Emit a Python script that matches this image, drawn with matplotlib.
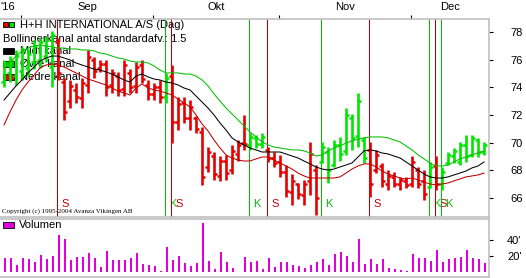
import numpy as np
import pandas as pd
import matplotlib
matplotlib.use('Agg')
import matplotlib.pyplot as plt
import matplotlib.transforms as mtransforms
from matplotlib.patches import Rectangle

plt.rcParams['font.family'] = ['Liberation Sans', 'DejaVu Sans']

# trading days shown in the chart
dates = pd.bdate_range('2016-08-29', periods=81)

high = [76.0, 76.3, 76.7, 76.9, 76.8, 77.4, 77.6, 77.7, 78.1, 77.6,
        74.7, 74.5, 74.3, 74.7, 76.7, 76.2, 76.0, 76.0, 75.3, 75.1,
        76.0, 75.3, 75.8, 76.0, 74.5, 74.3, 74.5, 75.0, 75.6, 73.3,
        73.3, 73.1, 71.9, 71.1, 69.7, 69.3, 69.0, 69.1, 69.8, 70.2,
        72.0, 70.7, 70.55, 70.7, 69.7, 69.3, 69.1, 68.4, 67.7, 67.1,
        67.3, 70.05, 68.4, 70.05, 69.7, 70.2, 70.4, 72.5, 72.1, 73.6,
        70.4, 70.05, 69.5, 68.5, 68.0, 67.9, 67.5, 67.5, 69.0, 68.2,
        68.0, 68.6, 69.0, 68.2, 69.3, 69.6, 70.05, 70.55, 70.55, 70.3,
        70.05]
low = [74.0, 74.4, 74.2, 74.5, 74.8, 75.3, 75.4, 75.8, 74.0, 74.5,
       71.6, 72.5, 72.9, 72.5, 73.6, 74.7, 75.1, 73.4, 73.6, 73.4,
       73.4, 73.6, 73.6, 74.3, 73.1, 73.1, 72.9, 72.9, 70.0, 70.9,
       71.4, 70.9, 70.7, 66.9, 67.9, 67.3, 67.2, 67.3, 67.7, 68.7,
       69.5, 69.5, 69.6, 69.6, 68.6, 68.2, 67.5, 66.1, 65.5, 65.9,
       65.5, 66.2, 64.8, 68.5, 67.1, 68.2, 68.7, 69.1, 69.5, 69.7,
       68.5, 66.1, 67.8, 66.8, 66.6, 66.8, 66.6, 66.7, 66.8, 66.7,
       65.85, 66.7, 66.6, 66.6, 68.4, 68.5, 68.4, 68.6, 68.95, 68.95,
       69.1]
opn = [74.4, 75.0, 74.8, 75.2, 75.4, 75.8, 76.0, 76.3, 75.5, 77.3,
       74.4, 73.0, 73.8, 73.2, 74.2, 76.0, 75.4, 75.7, 74.2, 74.8,
       73.9, 75.0, 74.1, 75.6, 74.2, 73.5, 74.0, 73.3, 74.8, 71.5,
       72.9, 71.8, 71.8, 70.8, 68.2, 69.0, 67.6, 68.7, 68.0, 69.2,
       70.0, 69.8, 70.3, 69.9, 69.5, 68.9, 68.6, 67.9, 66.4, 67.0,
       66.2, 67.2, 68.0, 68.6, 69.3, 68.4, 69.8, 69.4, 71.8, 70.5,
       70.2, 69.5, 68.0, 68.3, 67.0, 67.5, 67.0, 67.2, 67.0, 68.0,
       67.2, 66.8, 68.3, 67.0, 68.5, 69.0, 68.6, 69.8, 69.1, 70.2,
       69.3]
close = [75.6, 76.0, 76.3, 76.6, 76.4, 77.0, 77.3, 77.4, 77.8, 75.0,
         72.2, 74.1, 73.3, 74.3, 76.2, 75.2, 75.7, 74.0, 75.0, 73.8,
         75.6, 74.0, 75.5, 74.6, 73.5, 74.0, 73.3, 74.7, 71.5, 72.8,
         71.8, 72.6, 71.0, 67.5, 69.3, 67.7, 68.7, 67.8, 69.4, 69.8,
         69.9, 70.4, 69.9, 70.4, 68.9, 68.5, 67.9, 66.5, 67.2, 66.3,
         67.0, 69.2, 66.0, 69.7, 68.0, 69.8, 69.2, 72.0, 70.3, 73.0,
         68.9, 67.0, 69.1, 67.2, 67.6, 67.0, 67.3, 66.9, 68.6, 67.0,
         66.3, 68.2, 67.0, 67.9, 69.1, 69.4, 69.8, 69.0, 70.3, 69.3,
         69.8]
volume = [17500, 17500, 9000, 17500, 16000, 12500, 21000, 16000, 20000, 46000,
          41000, 15000, 19000, 19000, 24000, 17500, 6000, 26000, 15000, 15000,
          15000, 17500, 24000, 10000, 9000, 7500, 1500, 31000, 15000, 20000,
          11000, 7500, 11000, 61000, 14000, 4000, 25000, 12500, 5000, 500,
          19000, 12500, 14000, 4000, 17500, 6000, 12500, 12500, 9000, 7500,
          5000, 9000, 12500, 16000, 9000, 22500, 25000, 20000, 12500, 41000,
          10000, 16000, 10000, 16000, 5000, 4000, 2500, 1000, 22500, 17500,
          17500, 14000, 27500, 12500, 16000, 17500, 19000, 27500, 17500, 16000,
          11000]

# Bollinger channel (1.5 std)
upper = [75.40, 75.83, 76.26, 76.63, 76.84, 76.99, 77.06, 76.99, 76.92, 76.84,
         76.84, 76.77, 76.77, 76.70, 76.70, 76.63, 76.48, 76.41, 76.26, 76.12,
         76.05, 75.90, 75.83, 75.83, 75.76, 75.54, 75.25, 75.04, 75.04, 75.04,
         74.96, 74.96, 74.82, 74.53, 74.10, 73.52, 73.01, 72.50, 72.07, 71.64,
         71.20, 70.77, 70.41, 70.05, 69.83, 69.68, 69.61, 69.54, 69.47, 69.47,
         69.40, 69.25, 69.03, 69.11, 69.40, 69.61, 69.76, 69.97, 70.12, 70.26,
         70.34, 70.41, 70.41, 70.41, 70.34, 70.19, 70.05, 69.76, 69.47, 69.11,
         68.82, 68.53, 68.31, 68.31, 68.38, 68.60, 68.82, 68.96, 69.11, 69.25,
         69.40]
middle = [73.08, 73.59, 74.10, 74.53, 75.04, 75.47, 75.90, 76.12, 76.26, 76.26,
          76.12, 75.98, 75.76, 75.61, 75.47, 75.32, 75.25, 75.11, 74.96, 74.75,
          74.53, 74.38, 74.82, 74.96, 74.75, 74.60, 74.53, 74.38, 74.31, 74.17,
          73.95, 73.81, 73.37, 72.94, 72.50, 72.00, 71.42, 70.91, 70.34, 70.05,
          69.83, 69.61, 69.47, 69.32, 69.32, 69.32, 69.32, 69.18, 69.03, 68.89,
          68.67, 68.46, 68.24, 68.09, 68.02, 68.09, 68.24, 68.38, 68.53, 68.96,
          69.40, 69.47, 69.40, 69.25, 69.18, 69.03, 68.89, 68.60, 68.31, 68.02,
          67.73, 67.52, 67.44, 67.44, 67.52, 67.66, 67.80, 67.95, 68.17, 68.31,
          68.60]
lower = [71.28, 72.22, 73.08, 73.81, 74.38, 74.89, 75.40, 75.61, 75.69, 75.61,
         75.47, 75.25, 75.04, 74.82, 74.60, 74.46, 74.31, 74.17, 73.95, 73.73,
         73.59, 73.44, 73.95, 74.24, 73.95, 73.81, 73.73, 73.59, 73.44, 73.16,
         72.87, 72.58, 72.00, 71.35, 70.84, 70.19, 69.61, 69.11, 68.89, 68.74,
         68.67, 68.67, 68.82, 68.96, 68.96, 68.74, 68.53, 68.31, 68.09, 67.80,
         67.59, 67.44, 67.44, 67.44, 67.44, 67.44, 67.52, 67.80, 68.09, 68.31,
         68.46, 68.46, 68.24, 67.95, 67.73, 67.59, 67.44, 67.37, 67.44, 67.30,
         67.15, 67.01, 66.94, 67.01, 67.08, 67.23, 67.37, 67.52, 67.59, 67.66,
         67.80]

# buy (K) / sell (S) signals: bar index, type
signal_idx = [9, 27, 28, 41, 44, 53, 61, 71, 72, 73]
signal_type = ['S', 'K', 'S', 'K', 'S', 'K', 'S', 'K', 'S', 'K']

month_names = {8: "'16", 9: 'Sep', 10: 'Okt', 11: 'Nov', 12: 'Dec'}

GREEN = '#00e600'
RED = '#e60000'
LINE_GREEN = '#00c000'
LINE_RED = '#c00000'
MAGENTA = '#e000e0'
FRAME = '#c0c0c0'

W, H = 526, 278
fig = plt.figure(figsize=(W / 100, H / 100), dpi=100)
# pixel coords from top-left corner
pix = mtransforms.Affine2D().scale(1 / W, -1 / H).translate(0, 1) + fig.transFigure

ax = fig.add_axes([0, 1 - 217 / H, 489 / W, (217 - 19) / H])
axv = fig.add_axes([0, 1 - 277 / H, 489 / W, (277 - 219) / H])

x = np.arange(len(dates))

# bar colour follows the last signal
state = 'K'
cols = []
sig = dict(zip(signal_idx, signal_type))
for i in x:
    if i in sig:
        state = sig[i]
    cols.append(GREEN if state == 'K' else RED)

# signal lines + labels
for i, t in zip(signal_idx, signal_type):
    c = LINE_GREEN if t == 'K' else LINE_RED
    ax.axvline(i - 0.1, color=c, lw=0.75, zorder=2)
    ax.text(i + 0.5, 65.55, t, color=c, fontsize=8, ha='left', va='center', zorder=2)

# OHLC bars
ax.vlines(x, low, high, colors=cols, lw=1.9, zorder=3)
ax.hlines(opn, x - 0.45, x, colors=cols, lw=1.8, zorder=3)
ax.hlines(close, x, x + 0.45, colors=cols, lw=1.8, zorder=3)

# bollinger channel
ax.plot(x, upper, color=LINE_GREEN, lw=0.75, zorder=4)
ax.plot(x, middle, color='black', lw=0.75, zorder=4)
ax.plot(x, lower, color=LINE_RED, lw=0.75, zorder=4)

ax.set_xlim(-0.67, 80.83)
ax.set_ylim(64.62, 78.94)
ax.set_yticks([66, 68, 70, 72, 74, 76, 78])
ax.yaxis.tick_right()
ax.tick_params(axis='y', direction='out', length=3, width=0.8, pad=12.5, labelsize=8)

# month boundaries on top
month = dates.month
starts = [i for i in range(1, len(dates)) if month[i] != month[i - 1]]
bounds = [s - 0.17 for s in starts]
ax.xaxis.tick_top()
ax.set_xticks(bounds)
ax.set_xticklabels([])
ax.tick_params(axis='x', direction='out', length=3, width=0.8)
edges = [-0.67] + bounds + [80.83]
for k in range(len(edges) - 1):
    m = month[0] if k == 0 else month[starts[k - 1]]
    if k == 0:
        ax.annotate(month_names[m], xy=(edges[0], 1), xycoords=('data', 'axes fraction'),
                    xytext=(0, 8.5), textcoords='offset points', ha='left', va='center', fontsize=8)
    else:
        ax.annotate(month_names[m], xy=((edges[k] + edges[k + 1]) / 2, 1),
                    xycoords=('data', 'axes fraction'), xytext=(0, 8.5),
                    textcoords='offset points', ha='center', va='center', fontsize=8)

ax.spines['left'].set_visible(False)
for s in ['top', 'right', 'bottom']:
    ax.spines[s].set_color(FRAME)
    ax.spines[s].set_linewidth(1.2)

# legend (drawn under the bars)
ax.add_patch(Rectangle((3, 22), 5, 5, transform=pix, facecolor=RED, edgecolor='black',
                       lw=0.6, clip_on=False, zorder=1))
ax.add_patch(Rectangle((9, 22), 5, 5, transform=pix, facecolor=GREEN, edgecolor='black',
                       lw=0.6, clip_on=False, zorder=1))
ax.text(20, 25, 'H+H INTERNATIONAL A/S (Dag)', transform=pix, fontsize=8, va='center', zorder=1)
ax.text(3, 39, 'Bollingerkanal antal standardafv.: 1.5', transform=pix, fontsize=8,
        va='center', zorder=1)
legend_rows = [('Midt kanal', 'black', 51), ('Øvre kanal', LINE_GREEN, 64), ('Nedre kanal', RED, 77)]
for label, c, yy in legend_rows:
    ax.add_patch(Rectangle((3, yy - 3), 11, 6, transform=pix, facecolor=c, edgecolor='black',
                           lw=0.6, clip_on=False, zorder=1))
    ax.text(20, yy, label, transform=pix, fontsize=8, va='center', zorder=1)
ax.text(2, 211.5, 'Copyright (c) 1995-2004 Avanza Vikingen AB', transform=pix, fontsize=5,
        family='Liberation Serif', va='center', zorder=1)

# volume
axv.bar(x + 0.15, volume, width=0.45, color=MAGENTA, zorder=3)
axv.set_xlim(-0.67, 80.83)
axv.set_ylim(-6250, 66250)
axv.set_xticks([])
axv.set_yticks([20000, 40000])
axv.set_yticklabels(["20'", "40'"])
axv.yaxis.tick_right()
axv.tick_params(axis='y', direction='out', length=3, width=0.8, pad=10, labelsize=8)
axv.spines['left'].set_visible(False)
for s in ['top', 'right', 'bottom']:
    axv.spines[s].set_color(FRAME)
    axv.spines[s].set_linewidth(1.2)
axv.add_patch(Rectangle((3, 222), 11, 6, transform=pix, facecolor=MAGENTA, edgecolor='black',
                        lw=0.6, clip_on=False, zorder=1))
axv.text(19, 225, 'Volumen', transform=pix, fontsize=8, va='center', zorder=1)

fig.savefig('out.png', dpi=100)
